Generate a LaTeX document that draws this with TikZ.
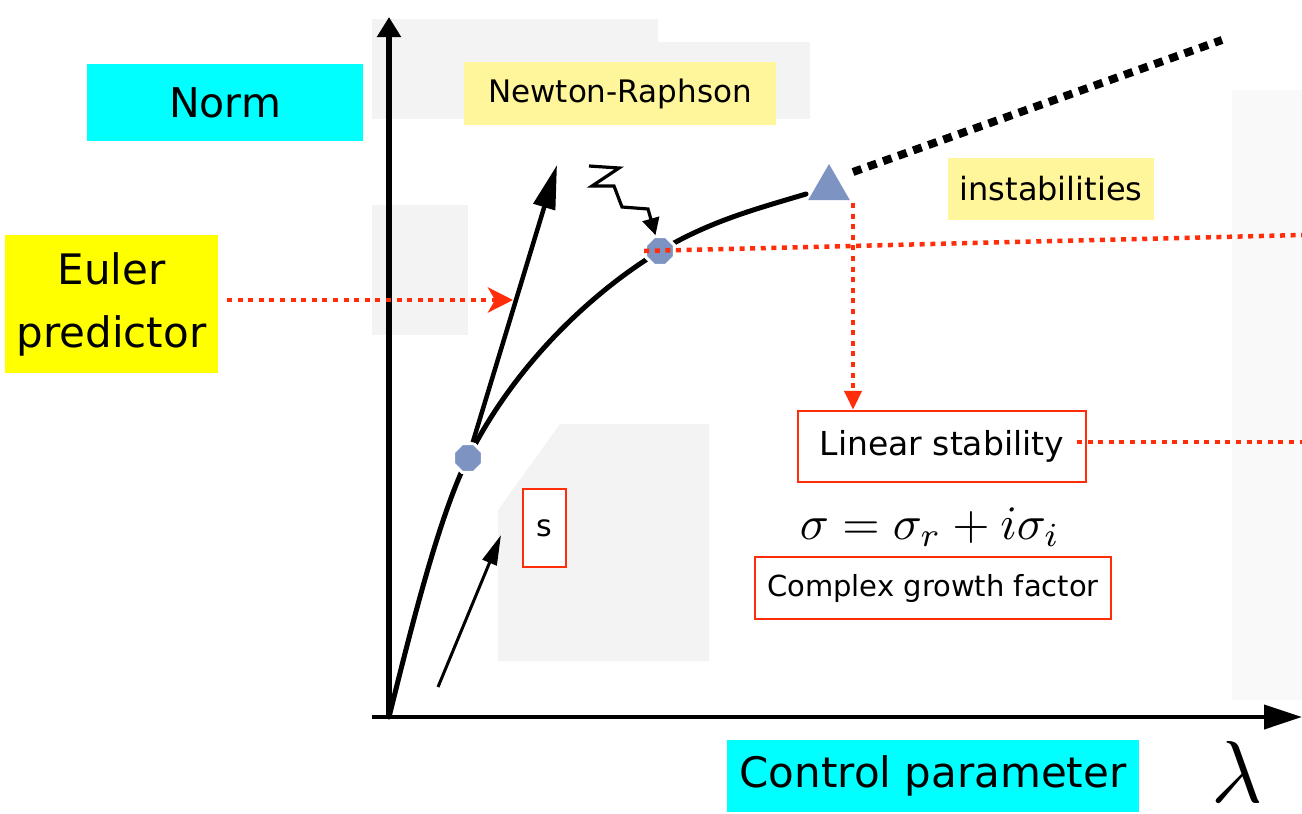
\documentclass[tikz,border=0pt]{standalone}
\usepackage{fontspec}
\setmainfont{DejaVu Sans}
\usepackage{tikz}
\usetikzlibrary{
  positioning, arrows.meta, shapes.geometric,
}
\definecolor{cCyan}  {HTML}{00FFFF}
\definecolor{cYellow}{HTML}{FFFF00}
\definecolor{cPale}  {HTML}{FFF59A}
\definecolor{cRed}   {HTML}{FF2D0A}
\definecolor{cMark}  {HTML}{7D93C1}
\definecolor{cScan}  {HTML}{F3F3F3}

\tikzset{
  tagbox/.style={inner sep=0pt, align=center, text=black},
  redbox/.style={tagbox, draw=cRed, line width=2.5pt, fill=white},
  reddots/.style={draw=cRed, line width=4.5pt, dash pattern=on 5pt off 5.6pt},
  octmark/.style={regular polygon, regular polygon sides=8, minimum size=31pt,
    inner sep=0pt, fill=cMark, draw=white, line width=3pt},
}

\begin{document}
\begin{tikzpicture}[x=1pt, y=-1pt]
  \useasboundingbox (0,0) rectangle (1302,814);
  \fill[white] (0,0) rectangle (1302,814);
  % grey patches of the scanned sketch
  \fill[cScan] (372,19) rectangle (658,42);
  \fill[cScan] (372,42) rectangle (810,119);
  \fill[cScan] (372,205) rectangle (468,335);
  \fill[cScan] (498,661) -- (498,510) -- (560,424) -- (709,424) -- (709,661) -- cycle;
  \fill[cScan!50] (1232,90) rectangle (1302,700);

  % axes
  \coordinate (orig) at (389,717);
  \coordinate (ytip) at (389,17);
  \coordinate (xbeg) at (372,717);
  \coordinate (xtip) at (1302,717);
  \draw[line width=5.5pt, -{Triangle[length=20pt,width=23pt]}] (orig) -- (ytip);
  \draw[line width=4pt, -{Triangle[length=38pt,width=24pt]}] (xbeg) -- (xtip);

  % solution branch
  \coordinate (q1) at (468,458);
  \coordinate (q2) at (660,251);
  \coordinate (qend) at (806,194);
  \draw[line width=5pt, line cap=round] (orig)
    .. controls (409,637) and (438,518) .. (q1)
    .. controls (518,358) and (600,287) .. (q2)
    .. controls (710,221) and (756,209) .. (qend);

  % continuation steps
  \coordinate (eultip) at (557,165);
  \coordinate (sfoot) at (438,687);
  \coordinate (shead) at (501,535);
  \node[octmark] (p1) at (q1) {};
  \draw[line width=4.5pt, -{Triangle[length=44pt,width=22pt]}] (p1) -- (eultip);
  \draw[line width=3pt, -{Triangle[length=30pt,width=15pt]}] (sfoot) -- (shead);
  \node[octmark] (p2) at (q2) {};
  \draw[line width=3.2pt, -{Triangle[length=17pt,width=17pt]}]
    (589,166) -- (619,168) -- (592,186) -- (614,186) -- (622,207) -- (648,209) -- (p2);

  % bifurcation point
  \node[regular polygon, regular polygon sides=3, minimum size=48pt, inner sep=0pt,
    fill=cMark] (tri) at (829,188) {};
  \coordinate (inst0) at (853,172);
  \coordinate (inst1) at (1222,40);
  \draw[line width=8pt, dash pattern=on 9pt off 7pt] (inst0) -- (inst1);

  % labels
  \node[tagbox, fill=cCyan, minimum width=276pt, minimum height=77pt,
    font=\fontsize{41}{48}\selectfont] (norm) at (225,102.5) {Norm};
  \node[tagbox, fill=cPale, minimum width=312pt, minimum height=63pt,
    font=\fontsize{31}{36}\selectfont] (newton) at (620,93.5) {Newton-Raphson};
  \node[tagbox, fill=cPale, minimum width=206pt, minimum height=62pt,
    font=\fontsize{32}{36}\selectfont] (inst) at (1051,189) {instabilities};
  \node[tagbox, fill=cYellow, minimum width=213pt, minimum height=138pt,
    font=\fontsize{42}{63}\selectfont] (euler) at (111.5,304) {Euler\\predictor};
  \node[redbox, minimum width=288pt, minimum height=71pt,
    font=\fontsize{33}{40}\selectfont] (lin) at (942,446.5) {Linear stability};
  \node[scale=4.8, inner sep=0pt] (sigma) at (930,527) {$\sigma=\sigma_r+i\sigma_i$};
  \node[redbox, minimum width=356pt, minimum height=62pt,
    font=\fontsize{29}{34}\selectfont] (growth) at (933,588) {Complex growth factor};
  \node[redbox, minimum width=43pt, minimum height=78pt,
    font=\fontsize{30}{36}\selectfont] (sbox) at (544.5,528) {s};
  \node[tagbox, fill=cCyan, minimum width=412pt, minimum height=72pt,
    font=\fontsize{42}{50}\selectfont] (ctrl) at (933,776) {Control parameter};
  \node[scale=8.8, inner sep=0pt] (lam) at (1237,772) {$\lambda$};

  % red pointers
  \coordinate (eulstart) at (227,300);
  \coordinate (eulhit) at (513,300);
  \coordinate (redend1) at (1302,235);
  \coordinate (vtop) at (853,203);
  \coordinate (lsstart) at (1077,442);
  \coordinate (redend2) at (1302,442);
  \draw[reddots, -{Stealth[length=25pt,width=25pt,inset=7pt]}] (eulstart) -- (eulhit);
  \draw[reddots] (p2.west) -- (redend1);
  \draw[reddots, -{Triangle[length=19pt,width=17pt]}] (vtop) -- (vtop |- lin.north);
  \draw[reddots] (lsstart) -- (redend2);
\end{tikzpicture}
\end{document}
